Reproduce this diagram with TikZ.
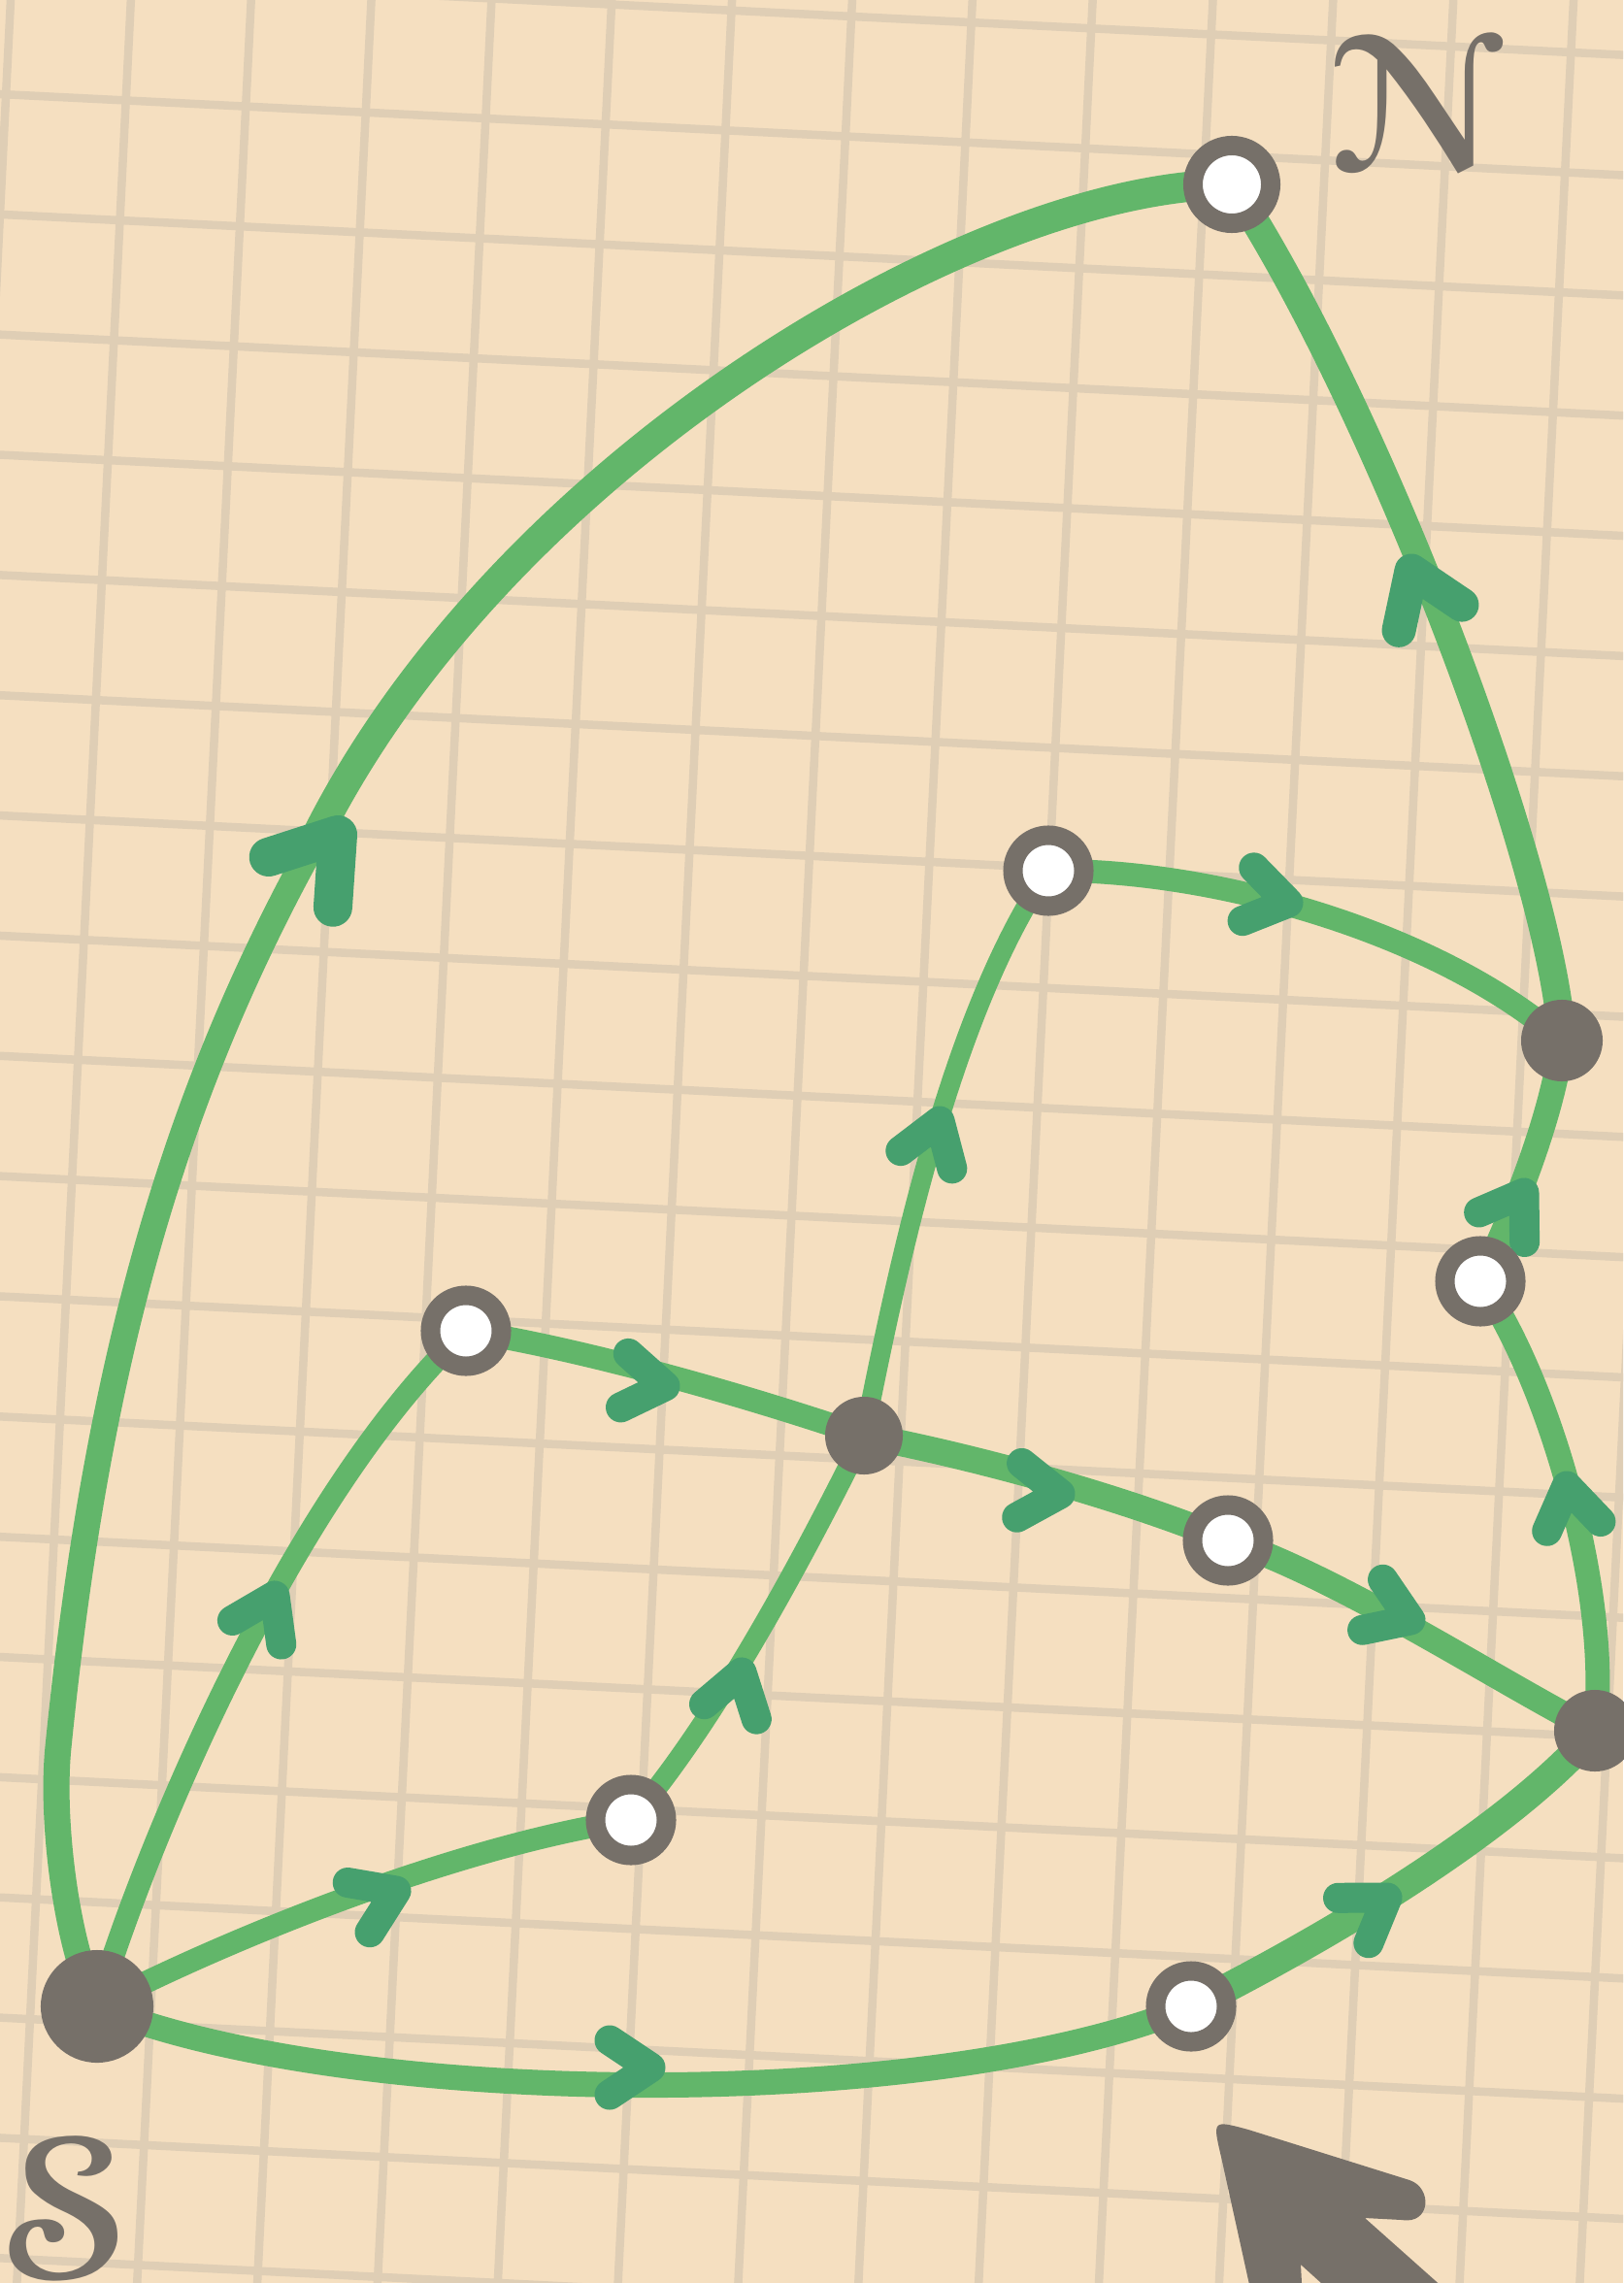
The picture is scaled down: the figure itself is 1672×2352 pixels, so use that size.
\documentclass[tikz,border=0pt]{standalone}
\usepackage{graphicx}
\usepackage[mathcal]{euscript}
\pgfdeclarelayer{gridl}
\pgfdeclarelayer{edgel}
\pgfsetlayers{gridl,edgel,main}
\definecolor{paper}{RGB}{245,223,192}
\definecolor{gridc}{RGB}{223,206,181}
\definecolor{edgec}{RGB}{98,182,106}
\definecolor{headc}{RGB}{70,160,110}
\definecolor{nodec}{RGB}{118,112,105}
\tikzset{
  gridline/.style={draw=gridc, line width=0.085cm},
  link/.style={draw=edgec, line width=#1, line cap=round, line join=round},
  link/.default=0.25cm,
  chevstroke/.style={draw=headc, line cap=round, line join=round},
  opennode/.style={circle, draw=nodec, fill=white, line width=0.2cm, minimum size=0.73cm, inner sep=0pt},
  fillnode/.style={circle, fill=nodec, draw=none, minimum size=#1, inner sep=0pt},
  chevn/.pic={\draw[chevstroke, line width=0.31cm] (-42,28) -- (0,0) -- (-42,-28);},
  chevm/.pic={\draw[chevstroke, line width=0.35cm] (-52,35) -- (0,0) -- (-52,-35);},
  chevb/.pic={\draw[chevstroke, line width=0.40cm] (-62,42) -- (0,0) -- (-62,-42);},
}
\begin{document}
\begin{tikzpicture}[x=0.01cm, y=-0.01cm]
\useasboundingbox (0,0) rectangle (1672,2352);
% paper and grid
\begin{pgfonlayer}{gridl}
  \fill[paper] (0,0) rectangle (1672,2352);
  \begin{scope}
    \clip (0,0) rectangle (1672,2352);
    \begin{scope}[shift={(6.14,97.3)}, rotate=-2.86]
      \foreach \i in {-3,...,16} \draw[gridline] (\i*123.7,-400) -- (\i*123.7,2800);
      \foreach \j in {-3,...,21} \draw[gridline] (-400,\j*123.7) -- (2100,\j*123.7);
    \end{scope}
  \end{scope}
\end{pgfonlayer}

% nodes
\node[fillnode=1.16cm] (S) at (100,2067) {};
\node[opennode, minimum size=0.8cm] (N) at (1269,190) {};
\node[opennode] (A) at (480,1371) {};
\node[fillnode=0.8cm] (B) at (890,1479) {};
\node[opennode] (C) at (1265,1587) {};
\node[opennode] (D) at (1080,897) {};
\node[fillnode=0.84cm] (E) at (1609,1072) {};
\node[opennode] (F) at (1525,1320) {};
\node[fillnode=0.84cm] (G) at (1643,1783) {};
\node[opennode] (H) at (650,1875) {};
\node[opennode] (I) at (1227,2067) {};

% labels
\node[text=nodec, inner sep=0pt] (Nlab) at (1458,106) {\scalebox{5.7}{\boldmath$\mathcal{N}$}};
\node[text=nodec, inner sep=0pt] (Slab) at (70,2275) {\scalebox{5.8}{\boldmath$\mathcal{S}$}};

% big pointer arrow
\fill[nodec] (1295,2390) -- (1258,2222) .. controls (1249,2184) .. (1286,2194)
  -- (1452,2246) .. controls (1476,2254) and (1474,2292) .. (1444,2287)
  -- (1406,2285) -- (1524,2390) -- (1403,2390) -- (1340,2333) -- (1343,2390) -- cycle;

% connectors
\begin{pgfonlayer}{edgel}
  % S -> N
  \draw[link=0.27cm] (S.center) .. controls (70,2010) and (52,1880) .. (60,1800)
     .. controls (100,1400) and (180,1130) .. (318,878);
  \draw[link=0.31cm] (318,878) .. controls (505,485) and (1000,190) .. (N.center);
  % E -> N
  \draw[link=0.29cm] (E.center) .. controls (1600,900) and (1420,420) .. (N.center);
  % D -> E
  \draw[link=0.24cm] (D.center) .. controls (1250,895) and (1480,960) .. (E.center);
  % F -> E
  \draw[link=0.26cm] (F.center) .. controls (1555,1260) and (1600,1150) .. (E.center);
  % B -> D
  \draw[link=0.20cm] (B.center) .. controls (920,1330) and (975,1050) .. (D.center);
  % A -> B
  \draw[link=0.24cm] (A.center) .. controls (600,1390) and (760,1435) .. (B.center);
  % B -> C
  \draw[link=0.27cm] (B.center) .. controls (1000,1500) and (1150,1540) .. (C.center);
  % C -> G
  \draw[link=0.26cm] (C.center) .. controls (1380,1625) and (1540,1730) .. (G.center);
  % G -> F
  \draw[link=0.25cm] (G.center) .. controls (1660,1650) and (1600,1430) .. (F.center);
  % H -> B
  \draw[link=0.21cm] (H.center) .. controls (740,1770) and (830,1600) .. (B.center);
  % S -> A
  \draw[link=0.23cm] (S.center) .. controls (150,1900) and (300,1540) .. (A.center);
  % S -> H
  \draw[link=0.23cm] (S.center) .. controls (250,1990) and (480,1900) .. (H.center);
  % S -> I
  \draw[link=0.26cm] (S.center) .. controls (350,2170) and (950,2180) .. (I.center);
  % I -> G
  \draw[link=0.30cm] (I.center) .. controls (1380,1990) and (1560,1880) .. (G.center);
  % arrowheads
  \pic[rotate=52] at (348,860) {chevb};
  \pic[rotate=112] at (1454,588) {chevm};
  \pic[rotate=-12] at (1327,930) {chevn};
  \pic[rotate=57] at (1570,1229) {chevn};
  \pic[rotate=71] at (968,1155) {chevn};
  \pic[rotate=-8] at (685,1428) {chevn};
  \pic[rotate=-5] at (1092,1539) {chevn};
  \pic[rotate=-22] at (1453,1669) {chevn};
  \pic[rotate=100] at (1614,1531) {chevn};
  \pic[rotate=74] at (764,1723) {chevn};
  \pic[rotate=64] at (283,1644) {chevn};
  \pic[rotate=24] at (408,1948) {chevn};
  \pic[rotate=0] at (670,2130) {chevn};
  \pic[rotate=34] at (1429,1955) {chevn};
\end{pgfonlayer}
\end{tikzpicture}
\end{document}
